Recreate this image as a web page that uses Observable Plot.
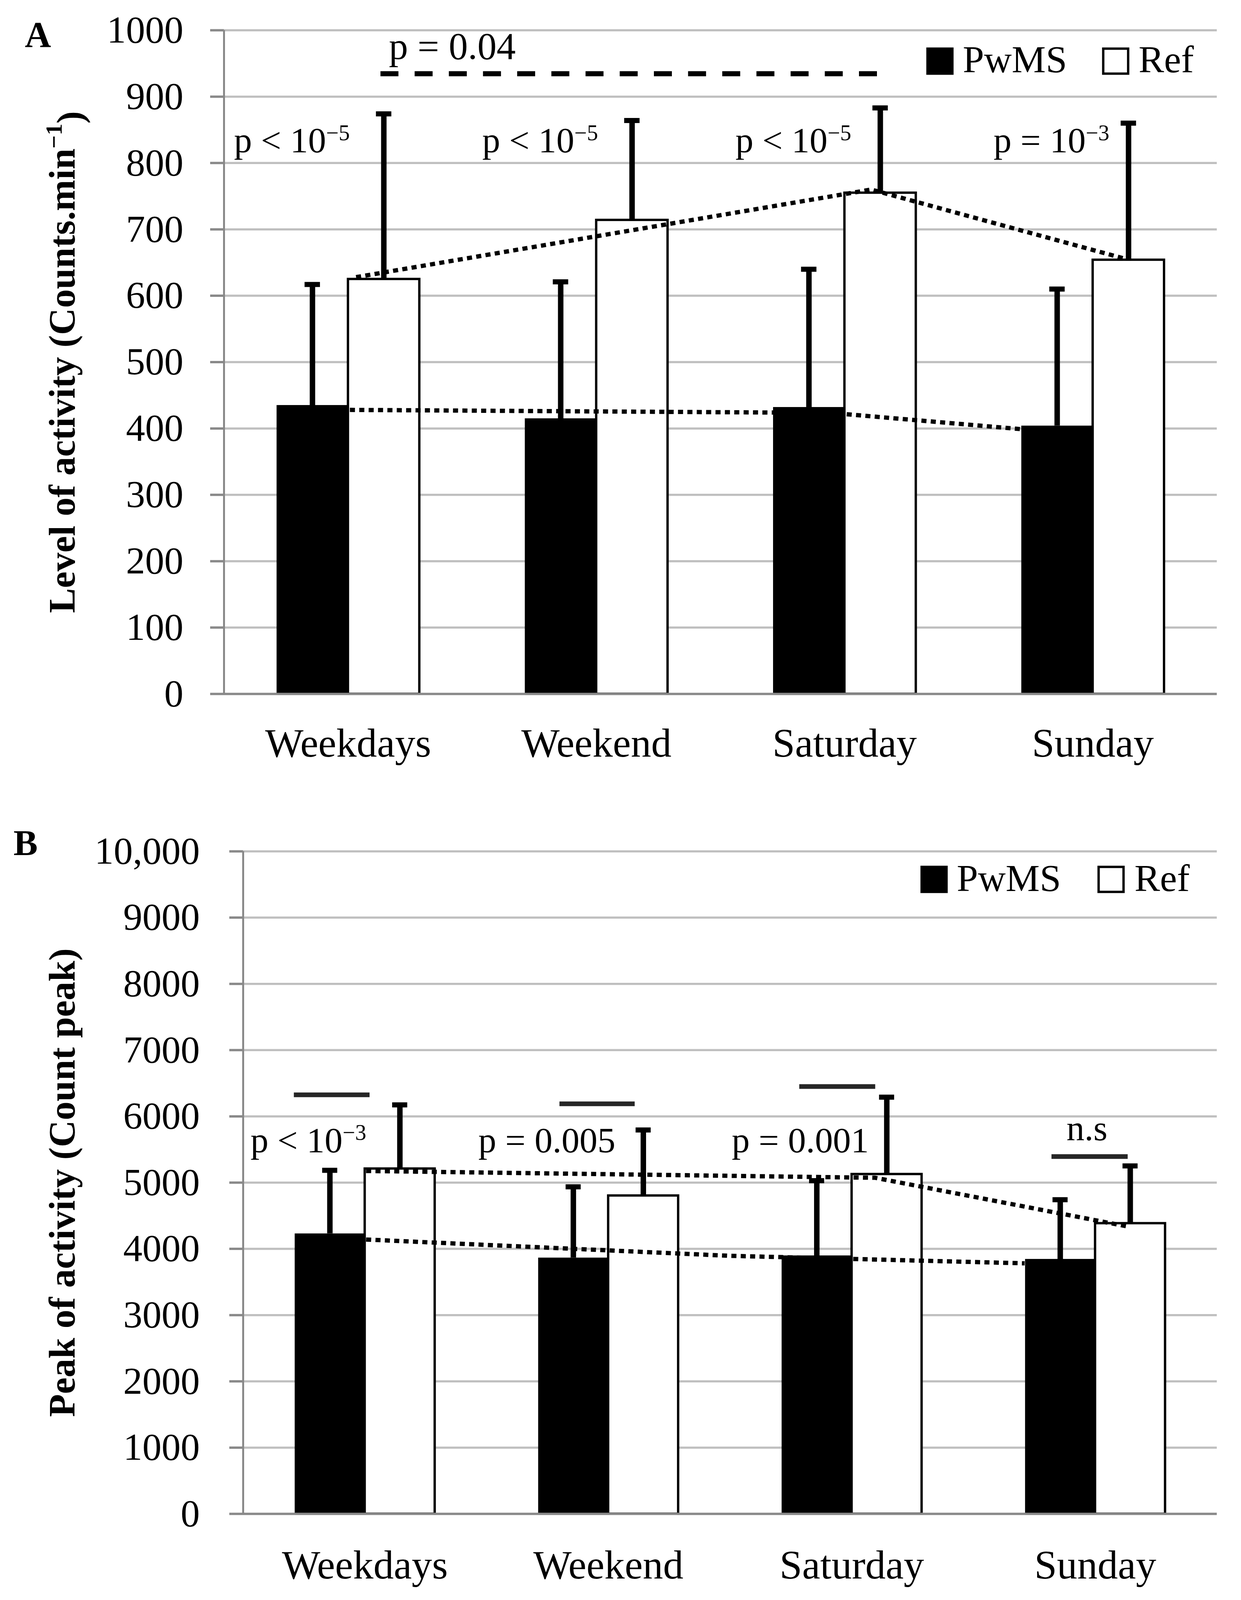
<!DOCTYPE html>
<html>
<head>
<meta charset="utf-8">
<script src="https://cdn.jsdelivr.net/npm/d3@7"></script>
<script src="https://cdn.jsdelivr.net/npm/@observablehq/plot@0.6"></script>
<style>
  body { margin: 0; background: #fff; overflow: hidden; }
  #chart svg { display: block; }
</style>
</head>
<body>
<div id="chart"></div>
<script>
const days = ["Weekdays", "Weekend", "Saturday", "Sunday"]

// A - level of activity (counts.min-1), mean and SD
const levelPwMS = [435, 415, 432, 404]
const levelPwMSSd = [182, 206, 208, 206]
const levelRef = [625, 714, 755, 654]
const levelRefSd = [249, 150, 128, 206]
const levelTicks = [0, 100, 200, 300, 400, 500, 600, 700, 800, 900, 1000]

// B - peak of activity (count peak), mean and SD
const peakPwMS = [4230, 3865, 3898, 3845]
const peakPwMSSd = [955, 1072, 1132, 897]
const peakRef = [5210, 4803, 5127, 4385]
const peakRefSd = [963, 992, 1163, 867]
const peakTicks = [0, 1000, 2000, 3000, 4000, 5000, 6000, 7000, 8000, 9000, 10000]

// annotations, x in day units (0..4), y in data units
const levelPText = ["p < 10⁻⁵", "p < 10⁻⁵", "p < 10⁻⁵", "p = 10⁻³"]
const levelPAt = [[0.04, 816], [1.04, 816], [2.06, 816], [3.10, 816]]
const levelTrendPwMS = [[0.507, 428], [2.445, 423.5], [3.21, 399]]
const levelTrendRef = [[0.532, 628], [2.607, 760], [3.627, 656]]
const levelBracket = [[0.631, 2.634, 934.5]]
const levelBracketText = [["p = 0.04", 0.664, 957]]
const levelLegend = [[2.884, 953.5, 2.976, 937], [3.592, 953.5, 3.684, 937]]

const peakPText = ["p < 10⁻³", "p = 0.005", "p = 0.001", "n.s"]
const peakPAt = [[0.03, 5458], [0.966, 5458], [2.007, 5458], [3.382, 5642]]
const peakTrendPwMS = [[0.505, 4141], [2.0, 3895], [3.21, 3782]]
const peakTrendRef = [[0.505, 5176], [2.596, 5073], [3.636, 4336]]
const peakSig = [[0.209, 0.52, 6325], [1.30, 1.609, 6190], [2.285, 2.597, 6450], [3.321, 3.634, 5393]]
const peakLegend = [[2.838, 9577, 2.931, 9404], [3.565, 9577, 3.661, 9404]]

const groups = ["PwMS", "Ref"]
const barW = 0.2875
const capW = 0.062
const font = "'Liberation Serif', 'DejaVu Serif', serif"

function rows(pw, pwSd, ref, refSd) {
  return days.flatMap((day, i) => [
    {day, i, group: "PwMS", mean: pw[i], sd: pwSd[i]},
    {day, i, group: "Ref", mean: ref[i], sd: refSd[i]}
  ])
}
const mid = d => d.i + 0.5 + (d.group === "PwMS" ? -barW / 2 : barW / 2)

function panel(o) {
  const data = rows(...o.values)
  const dotted = {x: d => d[0], y: d => d[1], stroke: "black", strokeWidth: 11,
    strokeDasharray: "13,11", strokeLinecap: "butt"}
  return Plot.plot({
    width: 3177,
    height: o.height,
    marginLeft: o.marginLeft,
    marginRight: 62,
    marginTop: o.marginTop,
    marginBottom: o.marginBottom,
    x: {type: "linear", domain: [0, 4], axis: null},
    y: {domain: o.domain, axis: null},
    style: {background: "white", fontFamily: font, fontSize: "100px", color: "black", overflow: "visible"},
    marks: [
      Plot.ruleY(o.ticks.slice(1), {stroke: "#bfbfbf", strokeWidth: 5.5}),
      Plot.ruleX([0], {stroke: "#898989", strokeWidth: 5}),
      Plot.axisY({ticks: o.ticks, tickFormat: o.tickFormat, tickSize: 35, tickPadding: o.tickPadding,
        stroke: "#898989", strokeWidth: 6, fill: "black", fontSize: 98, label: null}),
      Plot.rectY(data.filter(d => d.group === "PwMS"), {
        x1: d => mid(d) - barW / 2, x2: d => mid(d) + barW / 2, y1: 0, y2: "mean", fill: "black"
      }),
      Plot.rectY(data.filter(d => d.group === "Ref"), {
        x1: d => mid(d) - barW / 2, x2: d => mid(d) + barW / 2, y1: 0, y2: "mean",
        fill: "white", stroke: "black", strokeWidth: 6
      }),
      Plot.line(o.trendRef, dotted),
      Plot.line(o.trendPwMS, dotted),
      Plot.ruleX(data, {x: mid, y1: "mean", y2: d => d.mean + d.sd, stroke: "black", strokeWidth: 14}),
      Plot.ruleY(data, {x1: d => mid(d) - capW / 2, x2: d => mid(d) + capW / 2, y: d => d.mean + d.sd,
        stroke: "black", strokeWidth: 13}),
      Plot.ruleY([0], {stroke: "#898989", strokeWidth: 6}),
      ...o.extra,
      Plot.text(o.pText, {x: (d, i) => o.pAt[i][0], y: (d, i) => o.pAt[i][1],
        textAnchor: "start", lineAnchor: "bottom", fontSize: 92}),
      Plot.text(days, {x: (d, i) => i + 0.5, frameAnchor: "bottom", textAnchor: "middle",
        lineAnchor: "bottom", dy: o.labelDy, fontSize: 104}),
      Plot.dot(o.legend, {x: d => d[0], y: d => d[1], symbol: "square", r: 36,
        fill: (d, i) => i === 0 ? "black" : "white", stroke: "black", strokeWidth: 6}),
      Plot.text(o.legend, {x: d => d[2], y: d => d[3], text: (d, i) => groups[i],
        textAnchor: "start", lineAnchor: "bottom", fontSize: 98}),
      Plot.text([o.title], {frameAnchor: "left", rotate: -90, dx: o.titleDx,
        textAnchor: "middle", lineAnchor: "middle", fontWeight: "bold", fontSize: 96}),
      Plot.text([o.letter], {frameAnchor: "top-left", dx: o.letterAt[0], dy: o.letterAt[1],
        textAnchor: "start", lineAnchor: "bottom", fontWeight: "bold", fontSize: 93})
    ]
  })
}

// superscripts: "10⁻⁵" -> "10" + raised smaller "−5"
const supMap = {"⁻": "−", "¹": "1", "²": "2", "³": "3", "⁴": "4", "⁵": "5"}
function raiseExponents(svg) {
  d3.select(svg).selectAll("text").each(function () {
    const t = this.textContent
    const m = t.match(/^(.*?)([⁻¹²³⁴⁵]+)(.*)$/)
    if (!m || this.childElementCount > 0) return
    const el = d3.select(this).text(null)
    el.append("tspan").text(m[1])
    el.append("tspan").attr("font-size", "62%").attr("dy", "-0.55em")
      .text([...m[2]].map(c => supMap[c]).join(""))
    if (m[3]) el.append("tspan").attr("dy", "0.55em").text(m[3])
  })
  return svg
}

// the browser window is 4096 px tall, so both panels share that height
const chartA = panel({
  values: [levelPwMS, levelPwMSSd, levelRef, levelRefSd],
  height: 2050, marginLeft: 573, marginTop: 77, marginBottom: 274,
  domain: [0, 1000], ticks: levelTicks, tickFormat: d => String(d), tickPadding: 69,
  trendRef: levelTrendRef, trendPwMS: levelTrendPwMS,
  pText: levelPText, pAt: levelPAt, legend: levelLegend, labelDy: 160,
  title: "Level of activity (Counts.min⁻¹)", titleDx: -413,
  letter: "A", letterAt: [-510, 42],
  extra: [
    Plot.ruleY(levelBracket, {x1: d => d[0], x2: d => d[1], y: d => d[2],
      stroke: "black", strokeWidth: 13, strokeDasharray: "46,41.5"}),
    Plot.text(levelBracketText, {x: d => d[1], y: d => d[2], text: d => d[0],
      textAnchor: "start", lineAnchor: "bottom", fontSize: 98})
  ]
})

const chartB = panel({
  values: [peakPwMS, peakPwMSSd, peakRef, peakRefSd],
  height: 2046, marginLeft: 622, marginTop: 129, marginBottom: 221,
  domain: [0, 10000], ticks: peakTicks, tickFormat: d => d >= 10000 ? d3.format(",")(d) : String(d),
  tickPadding: 76,
  trendRef: peakTrendRef, trendPwMS: peakTrendPwMS,
  pText: peakPText, pAt: peakPAt, legend: peakLegend, labelDy: 165,
  title: "Peak of activity (Count peak)", titleDx: -462,
  letter: "B", letterAt: [-588, 9],
  extra: [
    Plot.ruleY(peakSig, {x1: d => d[0], x2: d => d[1], y: d => d[2], stroke: "#262626", strokeWidth: 12})
  ]
})

d3.select("#chart").append(() => raiseExponents(chartA))
d3.select("#chart").append(() => raiseExponents(chartB))
</script>
</body>
</html>
